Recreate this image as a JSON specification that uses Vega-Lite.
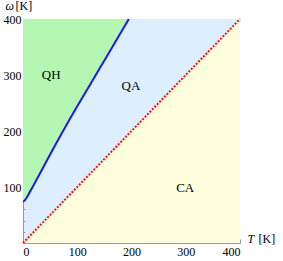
{
  "$schema": "https://vega.github.io/schema/vega-lite/v6.json",
  "width": 217,
  "height": 224,
  "autosize": {"type": "none"},
  "padding": {"left": 23, "top": 19, "right": 43, "bottom": 18},
  "background": "white",
  "view": {"fill": "#ddeeff", "stroke": null},
  "config": {
    "font": "Liberation Serif",
    "axis": {
      "domainColor": "#999999",
      "tickColor": "#999999",
      "grid": false,
      "labelFont": "Liberation Serif",
      "labelFontSize": 12,
      "labelColor": "black",
      "titleFont": "Liberation Serif",
      "titleFontSize": 12,
      "titleFontWeight": "normal",
      "titleColor": "black"
    }
  },
  "datasets": {
    "diag": [{"T": 0, "w": 0}, {"T": 400, "w": 400}],
    "curve": [
      {"T": 0, "w": 74}, {"T": 2, "w": 75}, {"T": 4, "w": 77}, {"T": 8, "w": 83},
      {"T": 12, "w": 90}, {"T": 20, "w": 104}, {"T": 30, "w": 122}, {"T": 45, "w": 149},
      {"T": 60, "w": 176}, {"T": 72, "w": 197}, {"T": 85, "w": 219}, {"T": 100, "w": 244},
      {"T": 125, "w": 285}, {"T": 150, "w": 326}, {"T": 175, "w": 367}, {"T": 195, "w": 400}
    ],
    "labels": [
      {"T": 52, "w": 300, "label": "QH"},
      {"T": 199, "w": 280, "label": "QA"},
      {"T": 299, "w": 98, "label": "CA"}
    ]
  },
  "resolve": {"axis": {"x": "independent", "y": "independent"}},
  "layer": [
    {
      "data": {"name": "diag"},
      "mark": {"type": "area", "color": "#ffffdd"},
      "encoding": {
        "x": {"field": "T", "type": "quantitative", "scale": {"domain": [0, 400], "nice": false},
          "axis": {"orient": "bottom", "values": [0, 100, 200, 300, 400], "tickSize": -4, "labelPadding": 7, "title": "T", "titleFontStyle": "italic", "titleX": 224, "titleY": -1, "titleAlign": "left", "titleBaseline": "alphabetic", "titleAnchor": null}},
        "y": {"field": "w", "type": "quantitative", "scale": {"domain": [0, 400], "nice": false},
          "axis": {"orient": "left", "values": [100, 200, 300, 400], "tickSize": -4, "labelPadding": 6, "title": "ω", "titleFontStyle": "italic", "titleAngle": 0, "titleX": -18, "titleY": -10, "titleAlign": "left", "titleBaseline": "alphabetic", "titleAnchor": null}}
      }
    },
    {
      "data": {"name": "curve"},
      "mark": {"type": "area", "color": "#b3f7b3", "interpolate": "monotone"},
      "encoding": {
        "x": {"field": "T", "type": "quantitative",
          "axis": {"orient": "bottom", "values": [0,20,40,60,80,100,120,140,160,180,200,220,240,260,280,300,320,340,360,380,400], "tickSize": -2, "labels": false, "domain": false, "title": "[K]", "titleX": 235, "titleY": -1, "titleAlign": "left", "titleBaseline": "alphabetic", "titleAnchor": null}},
        "y": {"field": "w", "type": "quantitative",
          "axis": {"orient": "left", "values": [0,20,40,60,80,100,120,140,160,180,200,220,240,260,280,300,320,340,360,380,400], "tickSize": -2, "labels": false, "domain": false, "title": "[K]", "titleAngle": 0, "titleX": -8, "titleY": -10, "titleAlign": "left", "titleBaseline": "alphabetic", "titleAnchor": null}},
        "y2": {"datum": 400}
      }
    },
    {
      "data": {"name": "curve"},
      "mark": {"type": "line", "color": "#1a1aee", "strokeWidth": 2, "interpolate": "monotone"},
      "encoding": {
        "x": {"field": "T", "type": "quantitative", "axis": null},
        "y": {"field": "w", "type": "quantitative", "axis": null}
      }
    },
    {
      "data": {"name": "diag"},
      "mark": {"type": "line", "color": "#ff1111", "strokeWidth": 2, "strokeDash": [2, 1.5]},
      "encoding": {
        "x": {"field": "T", "type": "quantitative", "axis": null},
        "y": {"field": "w", "type": "quantitative", "axis": null}
      }
    },
    {
      "data": {"name": "labels"},
      "mark": {"type": "text", "font": "Liberation Serif", "fontSize": 13, "color": "black"},
      "encoding": {
        "x": {"field": "T", "type": "quantitative", "axis": null},
        "y": {"field": "w", "type": "quantitative", "axis": null},
        "text": {"field": "label"}
      }
    }
  ]
}
